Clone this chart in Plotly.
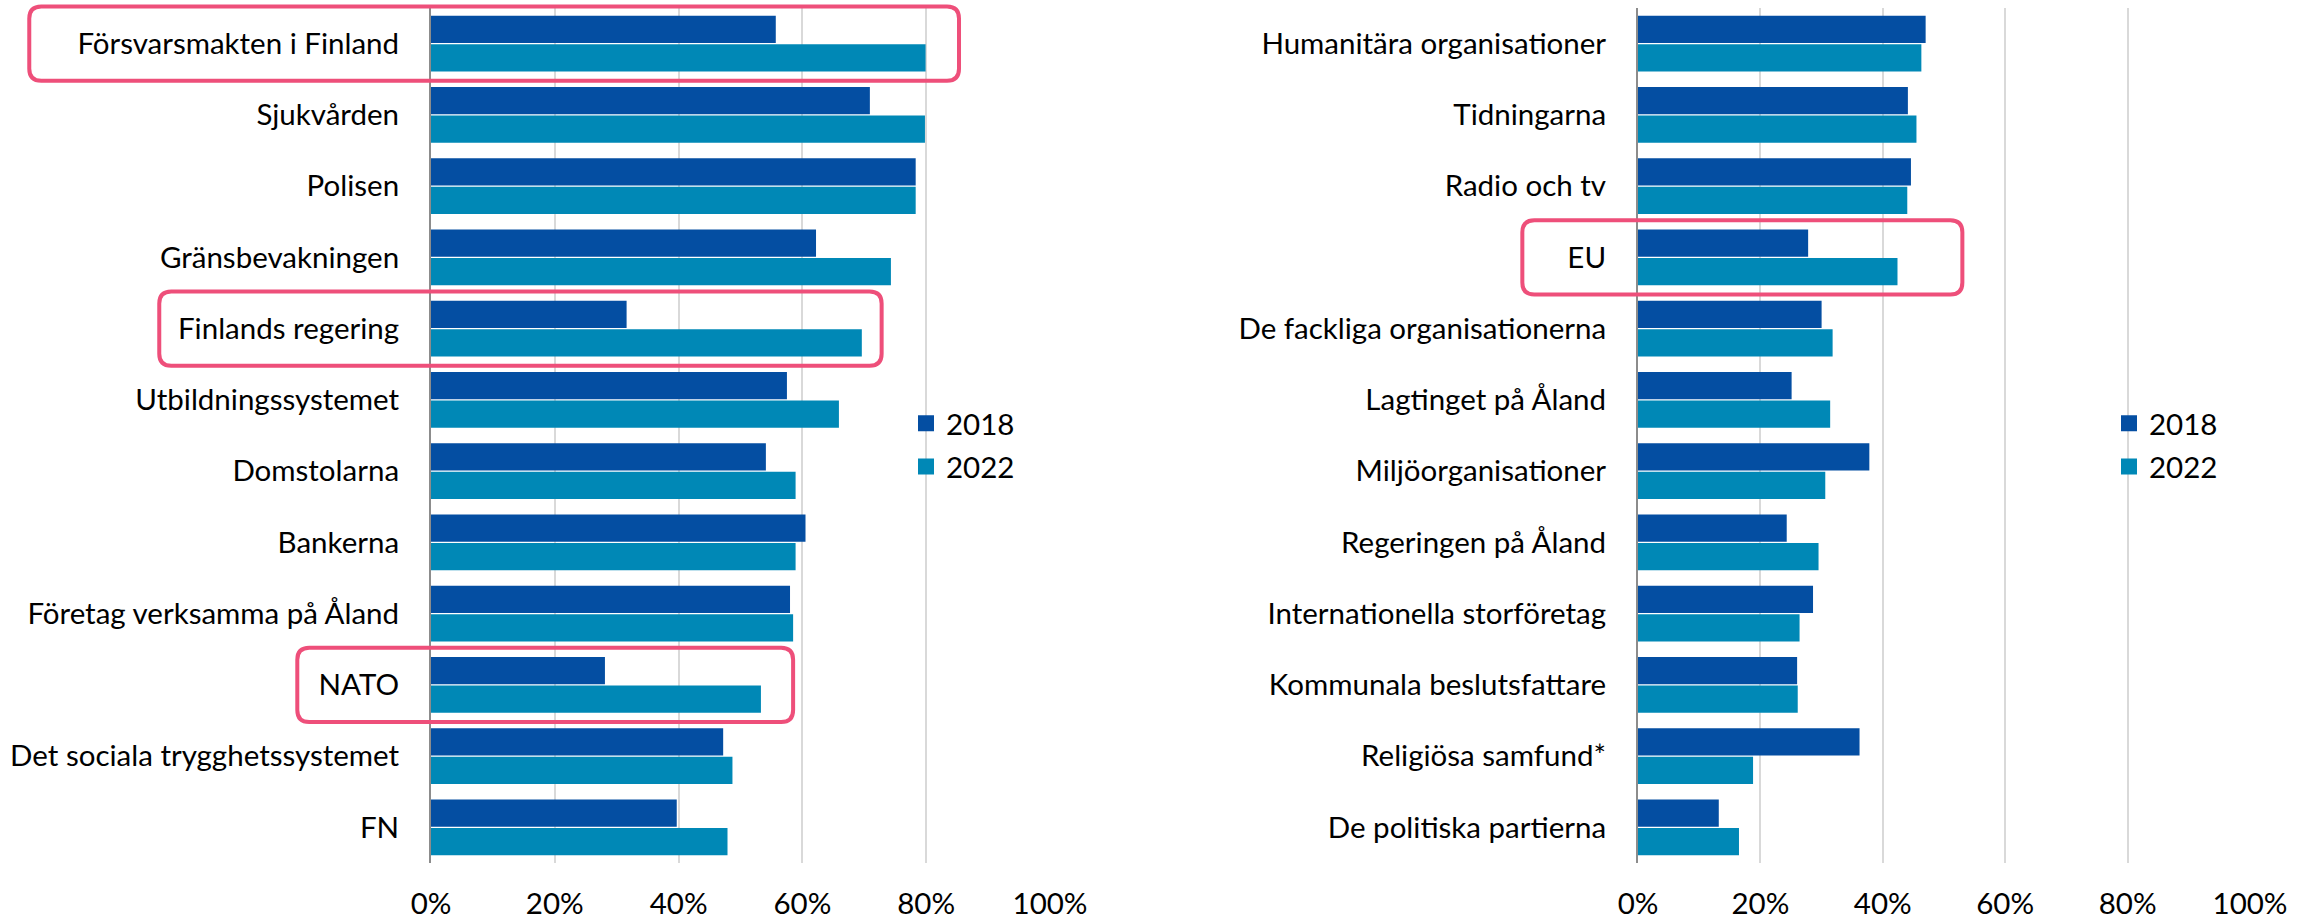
import plotly.graph_objects as go

# ---------------- data ----------------
left_categories = [
    "Försvarsmakten i Finland", "Sjukvården", "Polisen", "Gränsbevakningen",
    "Finlands regering", "Utbildningssystemet", "Domstolarna", "Bankerna",
    "Företag verksamma på Åland", "NATO", "Det sociala trygghetssystemet", "FN",
]
left_2018 = [55.7, 70.9, 78.3, 62.2, 31.6, 57.5, 54.1, 60.5, 58.0, 28.1, 47.2, 39.7]
left_2022 = [79.9, 79.8, 78.3, 74.3, 69.6, 65.9, 58.9, 58.9, 58.5, 53.3, 48.7, 47.9]

right_categories = [
    "Humanitära organisationer", "Tidningarna", "Radio och tv", "EU",
    "De fackliga organisationerna", "Lagtinget på Åland", "Miljöorganisationer",
    "Regeringen på Åland", "Internationella storföretag", "Kommunala beslutsfattare",
    "Religiösa samfund*", "De politiska partierna",
]
right_2018 = [47.0, 44.1, 44.6, 27.8, 30.0, 25.1, 37.8, 24.3, 28.6, 26.0, 36.2, 13.2]
right_2022 = [46.3, 45.5, 44.0, 42.4, 31.8, 31.4, 30.6, 29.5, 26.4, 26.1, 18.8, 16.5]

series_names = ["2018", "2022"]
tick_values = [0, 20, 40, 60, 80, 100]
tick_labels = ["0%", "20%", "40%", "60%", "80%", "100%"]

# highlighted categories: (panel, category, left edge, right edge) in axis-domain fractions
highlights = [
    ("left", "Försvarsmakten i Finland", -0.649, 0.853),
    ("left", "Finlands regering", -0.439, 0.728),
    ("left", "NATO", -0.216, 0.585),
    ("right", "EU", -0.189, 0.530),
]

# ---------------- style ----------------
W, H = 2312, 918
C2018 = "#044EA2"
C2022 = "#0088B6"
HL = "#EE4F7A"
FONT = "Lato"
FS = 29.5
MT, MB = 8, 55
LEFT_DOM = [431 / W, 1050 / W]
RIGHT_DOM = [1638 / W, 2250 / W]

fig = go.Figure()

panels = [
    ("x", "y", "legend", left_categories, left_2018, left_2022),
    ("x2", "y2", "legend2", right_categories, right_2018, right_2022),
]
for xa, ya, lg, cats, v18, v22 in panels:
    for name, vals, col in zip(series_names, [v18, v22], [C2018, C2022]):
        fig.add_trace(go.Bar(
            y=cats, x=vals, name=name, orientation="h",
            marker=dict(color=col, line=dict(width=0)),
            xaxis=xa, yaxis=ya, legendgroup=lg + name, showlegend=False,
            hoverinfo="skip",
        ))
    # legend entries with larger square keys
    for name, col in zip(series_names, [C2018, C2022]):
        fig.add_trace(go.Scatter(
            x=[None], y=[None], mode="markers", name=name,
            marker=dict(symbol="square", size=18, color=col),
            xaxis=xa, yaxis=ya, legend=lg, legendgroup=lg + name,
            hoverinfo="skip",
        ))

axis_common = dict(
    range=[0, 100], tickvals=tick_values, ticktext=tick_labels,
    showgrid=True, gridcolor="#D9D9D9", gridwidth=2,
    zeroline=False, showline=False, ticks="",
    tickfont=dict(family=FONT, size=FS, color="#000"),
    ticklabelstandoff=20, fixedrange=True, automargin=False,
)
yaxis_common = dict(
    type="category", autorange="reversed", showgrid=False, zeroline=False,
    showline=True, linecolor="#8C8C8C", linewidth=2, ticks="",
    tickfont=dict(family=FONT, size=FS, color="#000"),
    ticklabelstandoff=24, domain=[0, 1], fixedrange=True, automargin=False,
)

legend_common = dict(
    orientation="v", xanchor="left", yanchor="middle",
    font=dict(family=FONT, size=FS, color="#000"),
    bgcolor="rgba(0,0,0,0)", tracegroupgap=2, itemwidth=30,
)

plot_h = H - MT - MB
fig.update_layout(
    width=W, height=H,
    margin=dict(l=0, r=0, t=MT, b=MB, autoexpand=False),
    paper_bgcolor="white", plot_bgcolor="white",
    barmode="group", bargap=0.204, bargroupgap=0.04,
    xaxis=dict(domain=LEFT_DOM, anchor="y", **axis_common),
    yaxis=dict(anchor="x", categoryarray=left_categories, **yaxis_common),
    xaxis2=dict(domain=RIGHT_DOM, anchor="y2", **axis_common),
    yaxis2=dict(anchor="x2", categoryarray=right_categories, **yaxis_common),
    legend=dict(x=906 / W, y=1 - (445 - MT) / plot_h, **legend_common),
    legend2=dict(x=2109 / W, y=1 - (445 - MT) / plot_h, **legend_common),
    showlegend=True,
)

# rounded highlight frames around selected categories
n = len(left_categories)
rad_px = 12
half = 0.52  # half-height of frame, in category units
for panel, cat, x0, x1 in highlights:
    cats = left_categories if panel == "left" else right_categories
    dom = LEFT_DOM if panel == "left" else RIGHT_DOM
    xr = "x domain" if panel == "left" else "x2 domain"
    yr = "y domain" if panel == "left" else "y2 domain"
    i = cats.index(cat)
    y_top = 1 - (i + 0.5 - half) / n
    y_bot = 1 - (i + 0.5 + half) / n
    rx = rad_px / ((dom[1] - dom[0]) * W)
    ry = rad_px / plot_h
    path = (
        f"M {x0 + rx},{y_top} L {x1 - rx},{y_top} Q {x1},{y_top} {x1},{y_top - ry} "
        f"L {x1},{y_bot + ry} Q {x1},{y_bot} {x1 - rx},{y_bot} "
        f"L {x0 + rx},{y_bot} Q {x0},{y_bot} {x0},{y_bot + ry} "
        f"L {x0},{y_top - ry} Q {x0},{y_top} {x0 + rx},{y_top} Z"
    )
    fig.add_shape(type="path", path=path, xref=xr, yref=yr,
                  line=dict(color=HL, width=4), fillcolor="rgba(0,0,0,0)", layer="above")

fig.write_html("out.html", config={"displayModeBar": False},
               post_script="document.body.style.margin='0';")
